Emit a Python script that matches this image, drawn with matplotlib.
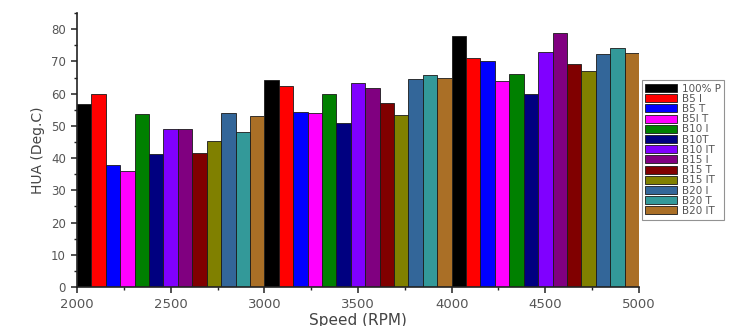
import numpy as np
import matplotlib
matplotlib.use('Agg')
import matplotlib.pyplot as plt
from matplotlib.ticker import MultipleLocator

# data
speeds = [2000, 3000, 4000]
series = ['100% P', 'B5 I', 'B5 T', 'B5I T', 'B10 I', 'B10T', 'B10 IT',
          'B15 I', 'B15 T', 'B15 IT', 'B20 I', 'B20 T', 'B20 IT']
p100 = [56.7, 64.3, 77.9]
b5_i = [59.8, 62.5, 71.0]
b5_t = [38.0, 54.2, 70.0]
b5i_t = [35.9, 54.0, 63.9]
b10_i = [53.8, 60.0, 66.0]
b10_t = [41.2, 50.9, 60.0]
b10_it = [48.9, 63.2, 73.1]
b15_i = [49.0, 61.8, 78.7]
b15_t = [41.5, 57.1, 69.1]
b15_it = [45.2, 53.5, 67.2]
b20_i = [54.0, 64.5, 72.2]
b20_t = [48.1, 65.9, 74.1]
b20_it = [53.1, 64.8, 72.7]

values = [p100, b5_i, b5_t, b5i_t, b10_i, b10_t, b10_it,
          b15_i, b15_t, b15_it, b20_i, b20_t, b20_it]
colors = ['#000000', '#FF0000', '#0000FF', '#FF00FF', '#008000', '#000080',
          '#8000FF', '#800080', '#800000', '#808000', '#336699', '#339999',
          '#AA6F26']

fig = plt.figure(figsize=(7.3, 3.26), dpi=100)
ax = fig.add_axes([0.1055, 0.1196, 0.7698, 0.840])

group_w = 1000
bar_w = group_w / len(series)
x = np.array(speeds, dtype=float)
for i, (name, vals, c) in enumerate(zip(series, values, colors)):
    ax.bar(x + i * bar_w, vals, width=bar_w, align='edge', color=c,
           edgecolor='#1a1a1a', linewidth=0.6, label=name)

ax.set_xlim(2000, 5000)
ax.set_ylim(0, 85)
ax.xaxis.set_major_locator(MultipleLocator(500))
ax.xaxis.set_minor_locator(MultipleLocator(250))
ax.yaxis.set_major_locator(MultipleLocator(10))
ax.yaxis.set_minor_locator(MultipleLocator(5))

for s in ['top', 'right']:
    ax.spines[s].set_visible(False)
for s in ['left', 'bottom']:
    ax.spines[s].set_linewidth(1.2)
    ax.spines[s].set_color('#222222')

ax.tick_params(which='major', direction='out', length=4.5, width=1.1,
               color='#222222', labelsize=8.5, labelcolor='#555555')
ax.tick_params(axis='x', which='major', labelsize=9.5)
ax.tick_params(which='minor', direction='out', length=2.5, width=1.0,
               color='#222222')

ax.set_xlabel('Speed (RPM)', fontsize=11, color='#444444', labelpad=1)
ax.set_ylabel('HUA (Deg.C)', fontsize=10, color='#444444', labelpad=4)

leg = fig.legend(loc='upper left', bbox_to_anchor=(0.879, 0.755),
                 fontsize=7.5, handlelength=3.0, handleheight=0.8,
                 labelspacing=0.02, handletextpad=0.5, borderpad=0.35,
                 borderaxespad=0, frameon=True, fancybox=False)
leg.get_frame().set_edgecolor('#777777')
leg.get_frame().set_linewidth(0.8)
for t in leg.get_texts():
    t.set_color('#555555')

fig.savefig('out.png', dpi=100)
